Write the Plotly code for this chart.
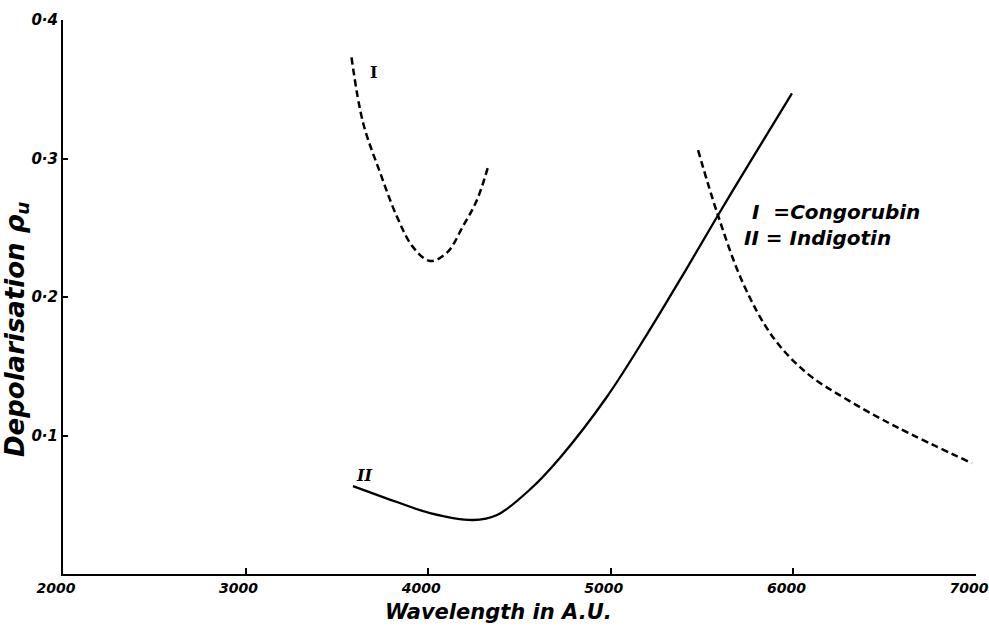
import plotly.graph_objects as go

# Curve I (Congorubin), dashed - two branches
congo_left_x = [3580, 3643, 3736, 3829, 3917, 4010, 4103, 4190, 4267, 4330]
congo_left_y = [0.373, 0.326, 0.290, 0.258, 0.236, 0.226, 0.232, 0.251, 0.270, 0.295]
congo_right_x = [5478, 5582, 5724, 5888, 6074, 6293, 6567, 6978]
congo_right_y = [0.306, 0.261, 0.210, 0.171, 0.145, 0.126, 0.106, 0.080]

# Curve II (Indigotin), solid
indigo_x = [3588, 3829, 4010, 4245, 4377, 4557, 4722, 4979, 5198, 5395, 5587, 5779, 5992]
indigo_y = [0.0635, 0.052, 0.044, 0.039, 0.0426, 0.061, 0.084, 0.128, 0.173, 0.216, 0.259, 0.301, 0.347]

x_ticks = [2000, 3000, 4000, 5000, 6000, 7000]
x_ticktext = ["2000", "3000", "4000", "5000", "6000", "7000"]
y_ticks = [0.1, 0.2, 0.3, 0.4]
y_ticktext = ["0·1", "0·2", "0·3", "0·4"]

FONT = "DejaVu Sans"
L, R, T, B = 63, 13, 20, 53
W, H = 989, 627
PW, PH = W - L - R, H - T - B


def px_x(px):
    return (px - L) / PW


def px_y(py):
    return (H - B - py) / PH


fig = go.Figure()
dash_line = dict(color="black", width=2.5, dash="7px,4px")
fig.add_trace(go.Scatter(x=congo_left_x, y=congo_left_y, mode="lines",
                         line=dict(shape="spline", **dash_line), showlegend=False))
fig.add_trace(go.Scatter(x=congo_right_x, y=congo_right_y, mode="lines",
                         line=dict(shape="spline", **dash_line), showlegend=False))
fig.add_trace(go.Scatter(x=indigo_x, y=indigo_y, mode="lines",
                         line=dict(shape="spline", color="black", width=2.3), showlegend=False))

fig.update_layout(
    width=W, height=H,
    margin=dict(l=L, r=R, t=T, b=B, autoexpand=False),
    plot_bgcolor="white", paper_bgcolor="white",
    xaxis=dict(range=[2000, 7000], tickvals=x_ticks, ticktext=x_ticktext,
               showgrid=False, zeroline=False, showline=True, linecolor="black", linewidth=2,
               ticks="inside", ticklen=6, tickwidth=2, tickcolor="black",
               tickfont=dict(family=FONT, size=14, color="black", style="italic", weight="bold"),
               ticklabeloverflow="allow", ticklabelshift=-7, automargin=False),
    yaxis=dict(range=[0, 0.4], tickvals=y_ticks, ticktext=y_ticktext,
               showgrid=False, zeroline=False, showline=True, linecolor="black", linewidth=2,
               ticks="inside", ticklen=5, tickwidth=2, tickcolor="black",
               tickfont=dict(family=FONT, size=15, color="black", style="italic", weight="bold"),
               ticklabeloverflow="allow", automargin=False),
    showlegend=False,
)

fig.add_annotation(text="Wavelength in A.U.", xref="paper", yref="paper",
                   x=px_x(498), y=px_y(612),
                   showarrow=False,
                   font=dict(family=FONT, size=21, color="black", style="italic", weight="bold"),
                   xanchor="center", yanchor="middle")
fig.add_annotation(text="Depolarisation ρ<sub>u</sub>", xref="paper", yref="paper",
                   x=px_x(16), y=px_y(330),
                   showarrow=False,
                   font=dict(family=FONT, size=26, color="black", style="italic", weight="bold"),
                   textangle=-90, xanchor="center", yanchor="middle")

legend_font = dict(family=FONT, size=20, color="black", style="italic", weight="bold")
fig.add_annotation(text="I  =Congorubin", xref="paper", yref="paper",
                   x=px_x(750), y=px_y(212),
                   showarrow=False, font=legend_font, xanchor="left", yanchor="middle")
fig.add_annotation(text="II = Indigotin", xref="paper", yref="paper",
                   x=px_x(742), y=px_y(238),
                   showarrow=False, font=legend_font, xanchor="left", yanchor="middle")

label_font = dict(family="DejaVu Serif", size=16, color="black", weight="bold")
fig.add_annotation(text="I", x=3700, y=0.362, showarrow=False, font=label_font)
fig.add_annotation(text="<i>II</i>", x=3650, y=0.071, showarrow=False, font=label_font)

fig.write_html("out.html")
